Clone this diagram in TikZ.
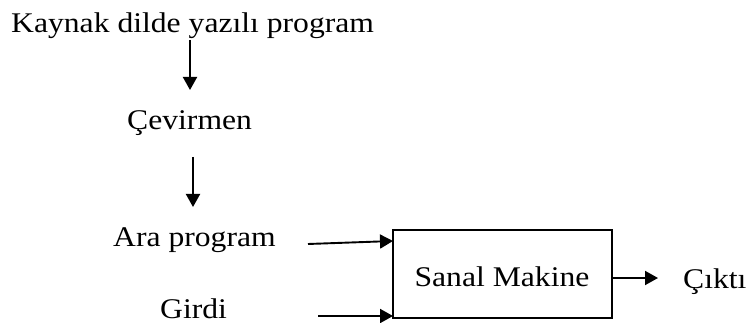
\documentclass[tikz,border=0pt]{standalone}
\usepackage{fontspec}
\setmainfont{Liberation Serif}
\usetikzlibrary{arrows.meta}
\begin{document}
\begin{tikzpicture}[x=1pt,y=-1pt,
  lbl/.style={inner sep=0pt, anchor=base west, xscale=1.11,
    font=\fontsize{28.5}{30}\selectfont},
  arr/.style={line width=1.9pt, -{Triangle[length=13pt,width=14pt]}},
  vmbox/.style={draw, line width=1.7pt, inner sep=0pt,
    minimum width=219pt, minimum height=88pt}]
\useasboundingbox (0,0) rectangle (747,323);

% text labels
\node[lbl] (kaynak) at (11,33) {Kaynak dilde yazılı program};
\node[lbl] (cev) at (127,130) {Çevirmen};
\node[lbl] (ara) at (113,247) {Ara program};
\node[lbl] (girdi) at (160,318) {Girdi};
\node[lbl] (cikti) at (683,288) {Çıktı};

% virtual machine box and its label
\node[vmbox] (vm) at (502.5,274) {};
\node[lbl, anchor=base] (vmlabel) at (502,287) {Sanal Makine};

% connector end points
\coordinate (a1s) at (190,40);
\coordinate (a1e) at (190,90);
\coordinate (a2s) at (193,157);
\coordinate (a2e) at (193,207);
\coordinate (b1s) at (308,244);
\coordinate (b1e) at (393,241);
\coordinate (b2s) at (318,316);
\coordinate (b2e) at (393,316);
\coordinate (ce) at (658,278);

% connectors
\draw[arr] (a1s) -- (a1e);
\draw[arr] (a2s) -- (a2e);
\draw[arr] (b1s) -- (b1e);
\draw[arr] (b2s) -- (b2e);
\draw[arr] (vm.east |- ce) -- (ce);
\end{tikzpicture}
\end{document}
